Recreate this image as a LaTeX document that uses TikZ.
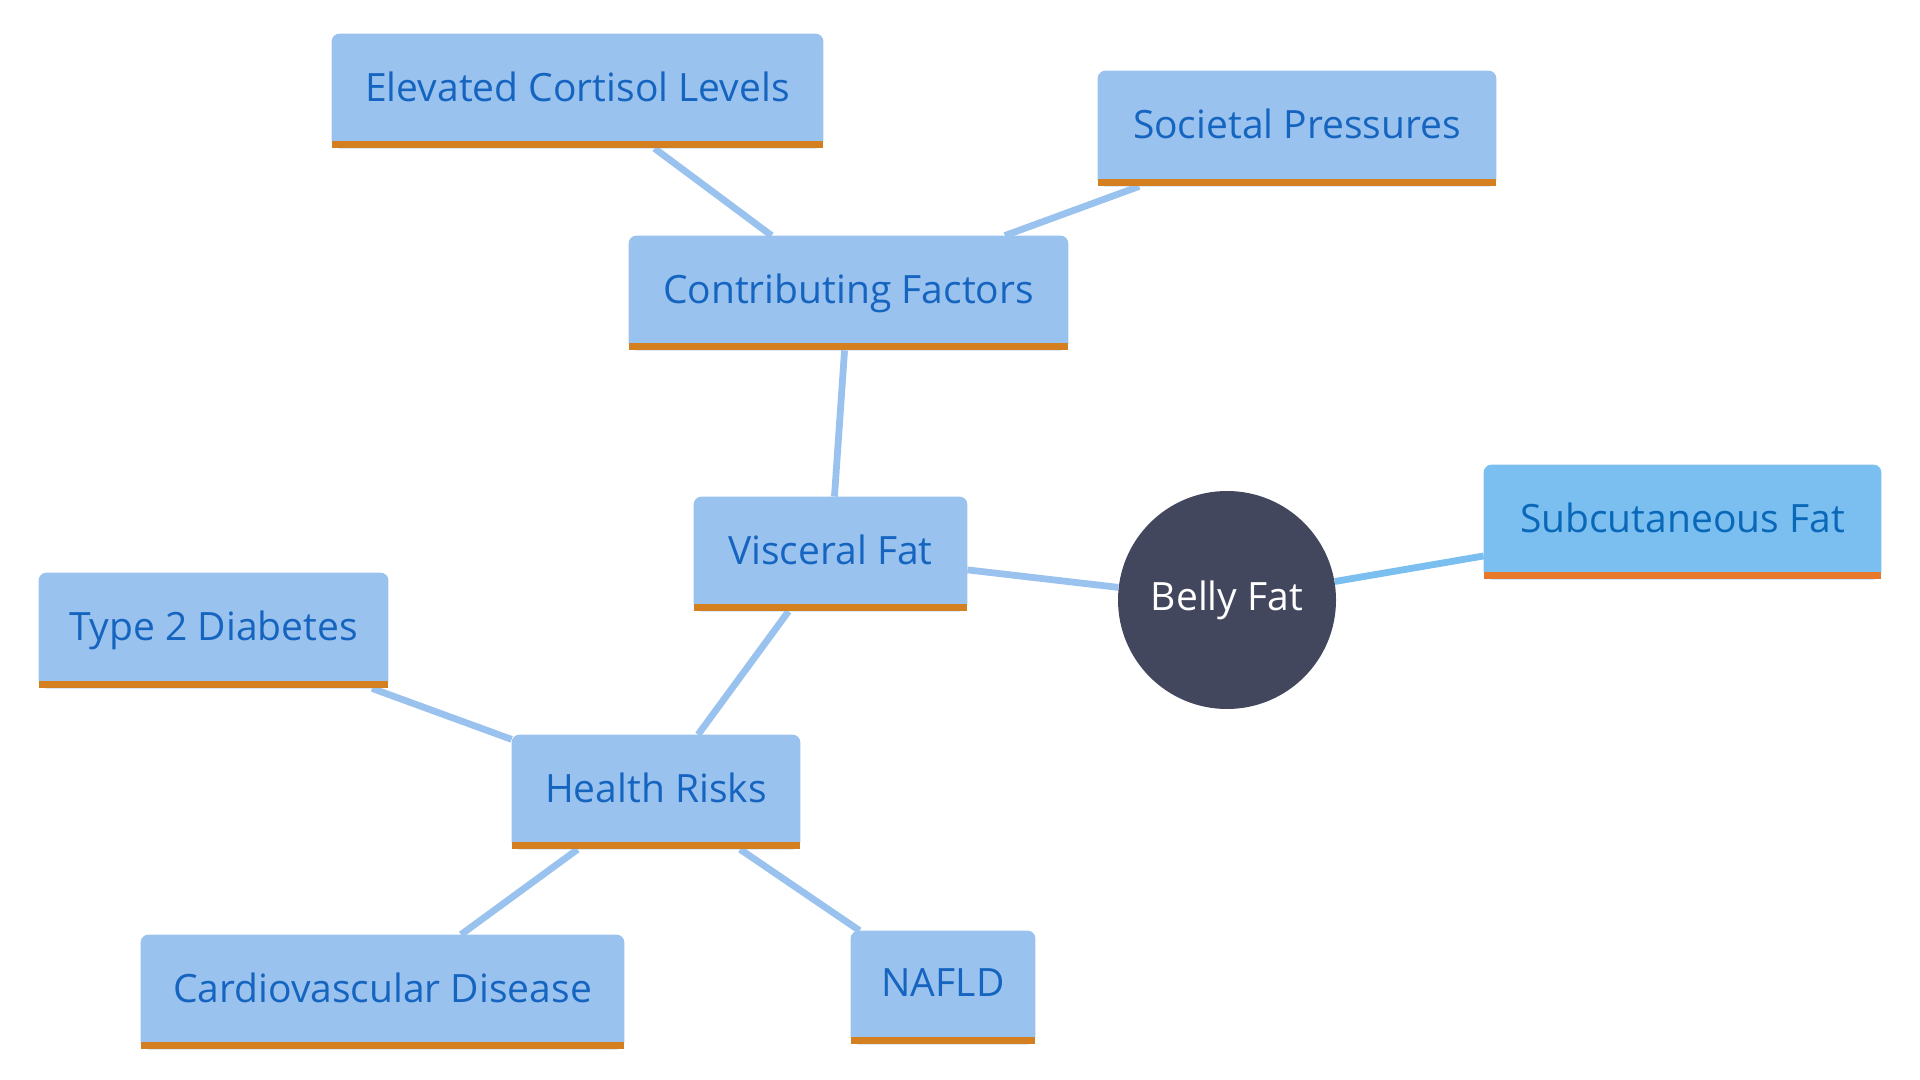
\documentclass[tikz,border=0pt]{standalone}
\usepackage{fontspec}
\setmainfont{Open Sans}
\usetikzlibrary{backgrounds}
\definecolor{boxfill}{HTML}{9AC2EE}
\definecolor{boxbar}{HTML}{D48021}
\definecolor{boxtxt}{HTML}{1565C0}
\definecolor{subfill}{HTML}{7BBEF0}
\definecolor{subbar}{HTML}{E8792B}
\definecolor{subtxt}{HTML}{0A68B8}
\definecolor{edgec}{HTML}{9AC2EE}
\definecolor{subedge}{HTML}{7BBEF0}
\definecolor{dark}{HTML}{42475E}
\newcommand\boxbg[3]{%
  \fill[#2, rounded corners=4pt] (#1.south west) rectangle (#1.north east);
  \fill[#2] (#1.south west) rectangle ([yshift=10pt]#1.south east);
  \fill[#3] (#1.south west) rectangle ([yshift=3.6pt]#1.south east);
}
\begin{document}
\begin{tikzpicture}[x=0.5pt,y=-0.5pt,
  box/.style={draw=none, fill=none, inner sep=0pt, text=boxtxt,
    font=\fontsize{19.5}{22}\selectfont},
  link/.style={draw=edgec, line width=3.4pt},
  sublink/.style={draw=subedge, line width=3.4pt}]
\useasboundingbox (0,0) rectangle (1920,1080);
\node[box, minimum width=245.5pt, minimum height=57pt] (cort) at (577.5,91) {\raisebox{4.5pt}{Elevated Cortisol Levels}};
\node[box, minimum width=199pt, minimum height=57.5pt] (soc) at (1297,128.5) {\raisebox{4.5pt}{Societal Pressures}};
\node[box, minimum width=219.5pt, minimum height=57pt] (contrib) at (848.5,293) {\raisebox{4.5pt}{Contributing Factors}};
\node[box, minimum width=136.5pt, minimum height=57pt] (visc) at (830.5,554) {\raisebox{4.5pt}{Visceral Fat}};
\node[box, text=subtxt, minimum width=198.5pt, minimum height=57pt] (subc) at (1682.5,522) {\raisebox{4.5pt}{Subcutaneous Fat}};
\node[box, minimum width=174.5pt, minimum height=57.5pt] (t2d) at (213.5,630.5) {\raisebox{4.5pt}{Type 2 Diabetes}};
\node[box, minimum width=144pt, minimum height=57pt] (health) at (656,792) {\raisebox{4.5pt}{Health Risks}};
\node[box, minimum width=241.5pt, minimum height=57pt] (cardio) at (382.5,992) {\raisebox{4.5pt}{Cardiovascular Disease}};
\node[box, minimum width=92pt, minimum height=56.5pt] (nafld) at (943,987.5) {\raisebox{4.5pt}{NAFLD}};
\node[circle, fill=dark, inner sep=0pt, minimum size=109pt, text=white,
  font=\fontsize{19.5}{22}\selectfont] (belly) at (1227,600) {Belly Fat};
\begin{pgfonlayer}{background}
  \draw[link] (cort) -- (contrib);
  \draw[link] (soc) -- (contrib);
  \draw[link] (contrib) -- (visc);
  \draw[link] (visc) -- (belly);
  \draw[sublink] (belly) -- (subc);
  \draw[link] (visc) -- (health);
  \draw[link] (health) -- (t2d);
  \draw[link] (health) -- (cardio);
  \draw[link] (health) -- (nafld);
  \boxbg{cort}{boxfill}{boxbar}
  \boxbg{soc}{boxfill}{boxbar}
  \boxbg{contrib}{boxfill}{boxbar}
  \boxbg{visc}{boxfill}{boxbar}
  \boxbg{subc}{subfill}{subbar}
  \boxbg{t2d}{boxfill}{boxbar}
  \boxbg{health}{boxfill}{boxbar}
  \boxbg{cardio}{boxfill}{boxbar}
  \boxbg{nafld}{boxfill}{boxbar}
\end{pgfonlayer}
\end{tikzpicture}
\end{document}
